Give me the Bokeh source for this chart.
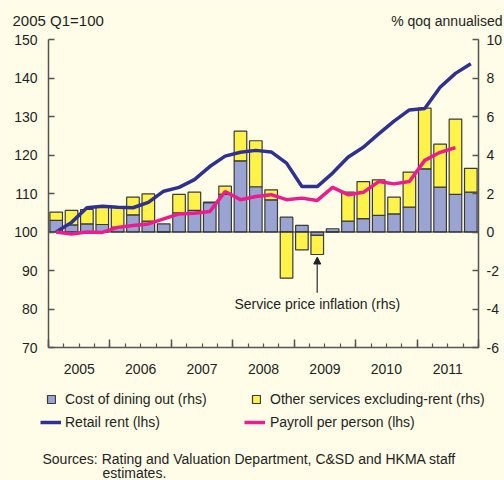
import numpy as np
from bokeh.plotting import figure
from bokeh.models import (Range1d, LinearAxis, FixedTicker, Label, Legend,
                          LegendItem, Arrow, NormalHead)
from bokeh.embed import file_html
from bokeh.resources import INLINE

# ---------------- data ----------------
years = ["2005", "2006", "2007", "2008", "2009", "2010", "2011"]

# rhs, % qoq annualised (one value per quarter, 2005 Q1 - 2011 Q4)
dining_out = [0.60, 0.37, 0.42, 0.39, 0.25, 0.89, 0.56, 0.42,
              1.00, 1.12, 1.52, 1.95, 3.70, 2.35, 1.67, 0.77,
              0.34, -0.18, 0.17, 0.56, 0.70, 0.86, 0.94, 1.29,
              3.28, 2.33, 1.95, 2.07]
other_services = [0.43, 0.75, 0.75, 0.91, 1.05, 0.92, 1.42, 0.00,
                  0.95, 0.95, 0.03, 0.43, 1.54, 2.39, 0.52, -2.40,
                  -0.93, -0.99, 0.00, 1.51, 1.92, 1.85, 0.87, 1.82,
                  3.15, 2.23, 3.91, 1.24]

# lhs, 2005 Q1 = 100
retail_rent = [100.0, 102.5, 106.3, 106.7, 106.4, 106.3, 107.7, 110.6,
               111.6, 113.6, 117.0, 119.7, 120.7, 121.2, 120.8, 117.9,
               111.8, 111.8, 115.3, 119.4, 122.0, 125.5, 128.8, 131.7,
               132.1, 137.6, 141.2, 143.7]
payroll = [100.0, 99.5, 100.0, 99.9, 101.2, 101.7, 102.1, 103.4,
           104.7, 104.9, 105.3, 110.5, 108.4, 109.2, 109.7, 108.4,
           108.8, 108.2, 111.6, 109.7, 110.3, 113.1, 112.5, 113.1,
           118.6, 120.7, 121.9]

lhs_ticks = [70, 80, 90, 100, 110, 120, 130, 140, 150]
rhs_ticks = [-6, -4, -2, 0, 2, 4, 6, 8, 10]

# ---------------- derived ----------------
n = len(dining_out)
xq = np.arange(n) + 0.5
d = np.array(dining_out)
o = np.array(other_services)
same_sign = np.sign(o) == np.sign(d)
o_bottom = np.where(same_sign, d, 0.0)
o_top = o_bottom + o

# ---------------- layout (pixels inside the canvas) ----------------
W, H = 504, 480
X0_PX, X1_PX = 48, 478      # where quarter 0 and quarter n sit
Y_TOP_PX, Y_BOT_PX = 39, 347  # where lhs top / bottom tick sit
LMIN, LMAX = lhs_ticks[0], lhs_ticks[-1]
RMIN, RMAX = rhs_ticks[0], rhs_ticks[-1]
sx = (X1_PX - X0_PX) / n
sy = (Y_BOT_PX - Y_TOP_PX) / (LMAX - LMIN)
x_start = -X0_PX / sx
x_end = n + (W - X1_PX) / sx
y_start = LMIN - (H - Y_BOT_PX) / sy
y_end = LMAX + Y_TOP_PX / sy
k = (RMAX - RMIN) / (LMAX - LMIN)
r_start = RMIN + (y_start - LMIN) * k
r_end = RMIN + (y_end - LMIN) * k


def dx(px):
    return x_start + px / sx


def dy(py):
    return y_end - py / sy


FONT = "Liberation Sans"
BG = "#FFFCE8"
TXT = "#231F20"
AX = "#555555"
BLUE_BAR = "#9AA4D3"
YELLOW = "#FFF248"
NAVY = "#2E3192"
PINK = "#EC1C8E"
EDGE = "#3A3A3A"

p = figure(width=W, height=H, output_backend="svg", toolbar_location=None,
           x_range=Range1d(x_start, x_end), y_range=Range1d(y_start, y_end),
           x_axis_location=None, y_axis_location=None,
           min_border_left=0, min_border_right=0, min_border_top=0,
           min_border_bottom=0,
           background_fill_color=BG, border_fill_color=BG, outline_line_color=None)
p.xgrid.visible = False
p.ygrid.visible = False
p.extra_y_ranges = {"rhs": Range1d(r_start, r_end)}

r_d = p.vbar(x=xq, bottom=0, top=d, width=0.82, fill_color=BLUE_BAR,
             line_color=EDGE, line_width=1.2, y_range_name="rhs")
r_o = p.vbar(x=xq, bottom=o_bottom, top=o_top, width=0.82, fill_color=YELLOW,
             line_color=EDGE, line_width=1.2, y_range_name="rhs")

# zero line of the rhs scale, across the plotting area
p.segment(x0=[0], x1=[n], y0=[0], y1=[0], y_range_name="rhs",
          line_color="#222222", line_width=1.2)

r_rent = p.line(xq[:len(retail_rent)], retail_rent, line_color=NAVY, line_width=3.5)
r_pay = p.line(xq[:len(payroll)], payroll, line_color=PINK, line_width=3.5)


def style_axis(ax):
    ax.axis_line_color = AX
    ax.axis_line_width = 1.5
    ax.major_tick_line_color = AX
    ax.major_tick_line_width = 1.5
    ax.minor_tick_line_color = AX
    ax.minor_tick_line_width = 1.2
    ax.major_label_text_font = FONT
    ax.major_label_text_font_size = "14px"
    ax.major_label_text_color = TXT


left = LinearAxis(ticker=FixedTicker(ticks=lhs_ticks), bounds=(LMIN, LMAX),
                  fixed_location=0)
style_axis(left)
left.major_tick_in = 6
left.major_tick_out = 0
left.minor_tick_line_color = None
left.major_label_standoff = 11
p.add_layout(left, "left")

right = LinearAxis(y_range_name="rhs", ticker=FixedTicker(ticks=rhs_ticks),
                   bounds=(RMIN, RMAX), fixed_location=n,
                   major_label_overrides={t: str(t) for t in rhs_ticks})
style_axis(right)
right.major_tick_in = 6
right.major_tick_out = 0
right.minor_tick_line_color = None
right.major_label_standoff = 8
p.add_layout(right, "right")

year_bounds = [4 * i for i in range(len(years) + 1)]
quarter_bounds = list(range(n + 1))

# axis line + long ticks at year boundaries
xb1 = LinearAxis(ticker=FixedTicker(ticks=[], minor_ticks=year_bounds),
                 bounds=(0, n), fixed_location=LMIN)
style_axis(xb1)
xb1.minor_tick_in = 8
xb1.minor_tick_out = 0
xb1.minor_tick_line_width = 1.5
p.add_layout(xb1, "below")

# short ticks at quarter boundaries
xb3 = LinearAxis(ticker=FixedTicker(ticks=[], minor_ticks=quarter_bounds),
                 bounds=(0, n), fixed_location=LMIN)
style_axis(xb3)
xb3.axis_line_color = None
xb3.minor_tick_in = 4
xb3.minor_tick_out = 0
p.add_layout(xb3, "below")

# year labels centred in each year
year_centers = [4 * i + 2 for i in range(len(years))]
xb2 = LinearAxis(ticker=FixedTicker(ticks=year_centers), fixed_location=LMIN,
                 major_label_overrides={c: y for c, y in zip(year_centers, years)})
style_axis(xb2)
xb2.axis_line_color = None
xb2.major_tick_line_color = None
xb2.minor_tick_line_color = None
xb2.major_label_standoff = 10
p.add_layout(xb2, "below")

# annotation
p.add_layout(Arrow(x_start=17.5, y_start=-3.15, x_end=17.5, y_end=-1.3,
                   y_range_name="rhs", line_color="#555555", line_width=1.5,
                   end=NormalHead(size=7, fill_color="#222222", line_color="#222222")))
p.add_layout(Label(x=17.5, y=-3.72, y_range_name="rhs",
                   text="Service price inflation (rhs)", text_align="center",
                   text_baseline="middle", text_font=FONT, text_font_size="14px",
                   text_color=TXT))


def add_text(txt, px, py, align="left", size="14px"):
    p.add_layout(Label(x=dx(px), y=dy(py), text=txt, text_align=align,
                       text_baseline="middle", text_font=FONT,
                       text_font_size=size, text_color=TXT))


add_text("2005 Q1=100", 12, 20, size="15px")
add_text("% qoq annualised", 502, 20, align="right")
add_text("Sources: Rating and Valuation Department, C&SD and HKMA staff", 42, 458)
add_text("estimates.", 102, 472)


def add_legend(label, rend, px, py_center, gw, standoff):
    lg = Legend(items=[LegendItem(label=label, renderers=[rend])],
                location=(px, H - (py_center + 10)),
                padding=0, margin=0, border_line_color=None, background_fill_alpha=0,
                glyph_width=gw, glyph_height=10, label_standoff=standoff,
                label_height=20, label_text_font=FONT, label_text_font_size="14px",
                label_text_color=TXT)
    p.add_layout(lg)


add_legend("Cost of dining out (rhs)", r_d, 46, 399, 10, 9)
add_legend("Other services excluding-rent (rhs)", r_o, 251, 399, 10, 9)
add_legend("Retail rent (lhs)", r_rent, 40, 422, 21, 4)
add_legend("Payroll per person (lhs)", r_pay, 244, 422, 21, 5)

open("out.html", "w").write(file_html(p, INLINE))
